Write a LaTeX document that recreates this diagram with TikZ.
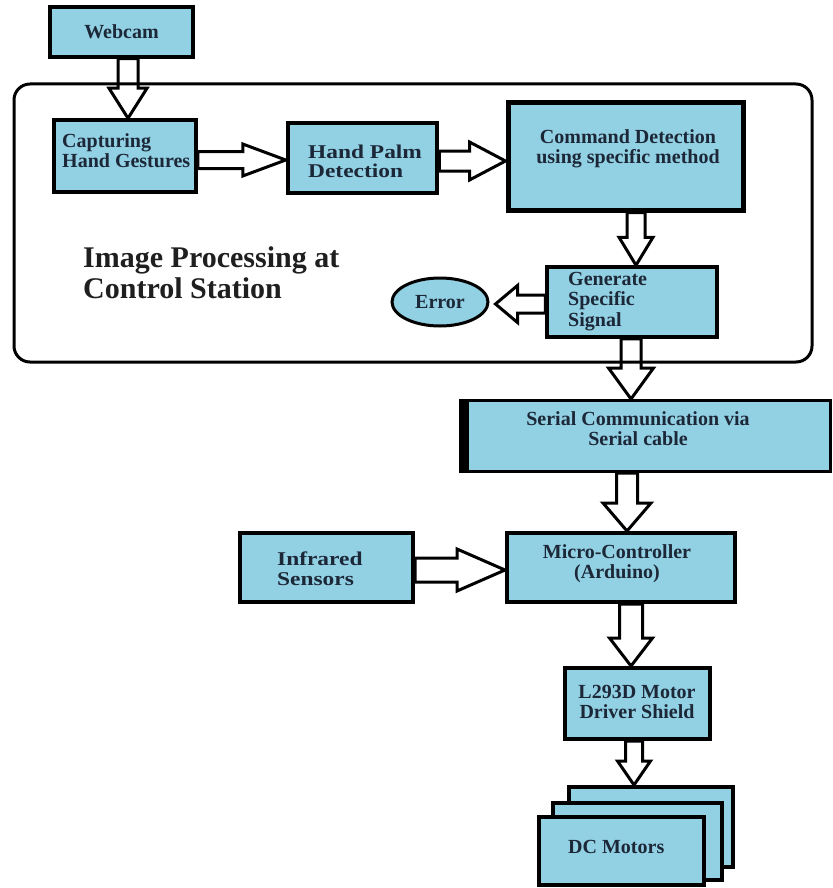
\documentclass[tikz,border=0pt]{standalone}
\usepackage{fontspec}
\setmainfont{Liberation Serif}
\newfontfamily\wideserif{Liberation Serif}[FakeStretch=1.2]
\usetikzlibrary{calc,shapes.geometric}

\definecolor{boxblue}{RGB}{146,208,227}
\definecolor{ink}{RGB}{28,40,56}

\pgfdeclarelayer{arrows}
\pgfdeclarelayer{frame}
\pgfsetlayers{arrows,frame,main}

% hollow block arrows: {from}{to}{axis position}{shaft half}{head half}{head length}
\newcommand\blkdown[6]{%
  \draw[blk] let \p1=(#3,0 |- #1), \p2=(#3,0 |- #2) in
    (\x1-#4pt,\y1) -- (\x1-#4pt,\y2+#6pt) -- (\x1-#5pt,\y2+#6pt) -- (\x1,\y2)
    -- (\x1+#5pt,\y2+#6pt) -- (\x1+#4pt,\y2+#6pt) -- (\x1+#4pt,\y1) -- cycle;}
\newcommand\blkright[6]{%
  \draw[blk] let \p1=(#1 |- 0,#3), \p2=(#2 |- 0,#3) in
    (\x1,\y1+#4pt) -- (\x2-#6pt,\y1+#4pt) -- (\x2-#6pt,\y1+#5pt) -- (\x2,\y1)
    -- (\x2-#6pt,\y1-#5pt) -- (\x2-#6pt,\y1-#4pt) -- (\x1,\y1-#4pt) -- cycle;}
\newcommand\blkleft[6]{%
  \draw[blk] let \p1=(#1 |- 0,#3), \p2=(#2 |- 0,#3) in
    (\x1,\y1+#4pt) -- (\x2+#6pt,\y1+#4pt) -- (\x2+#6pt,\y1+#5pt) -- (\x2,\y1)
    -- (\x2+#6pt,\y1-#5pt) -- (\x2+#6pt,\y1-#4pt) -- (\x1,\y1-#4pt) -- cycle;}

\tikzset{
  blk/.style={draw=black, fill=white, line width=3pt, line join=miter},
  box/.style={draw=black, fill=boxblue, line width=3.5pt, inner sep=0pt,
    text=ink, font=\bfseries\fontsize{20}{20.5}\selectfont},
  txt/.style={inner sep=0pt, text=ink, align=left,
    font=\bfseries\fontsize{20}{20.5}\selectfont},
  ctxt/.style={txt, align=center},
  widetxt/.style={inner sep=0pt, text=ink, align=left,
    font=\wideserif\bfseries\fontsize{19.5}{19.5}\selectfont},
  titletxt/.style={inner sep=0pt, text=black!88, align=left,
    font=\bfseries\fontsize{30}{31}\selectfont},
}

\newcommand\lineone{\rule{0pt}{15pt}}

\begin{document}
\begin{tikzpicture}[x=1pt,y=-1pt]
\useasboundingbox (0,0) rectangle (832,888);
\begin{pgfonlayer}{arrows}
  \fill[white] (0,0) rectangle (832,888);
\end{pgfonlayer}

% control station frame
\begin{pgfonlayer}{frame}
  \node[draw=black, line width=3pt, rounded corners=16pt, inner sep=0pt,
        minimum width=798pt, minimum height=278pt] (station) at (413,223) {};
\end{pgfonlayer}

% blocks
\node[box, minimum width=143pt, minimum height=50pt] (webcam) at (121.5,32) {Webcam};
\node[box, minimum width=142pt, minimum height=72pt] (capt) at (125,156) {};
\node[box, line width=4.5pt, minimum width=149pt, minimum height=70pt] (palm) at (362.5,158) {};
\node[box, line width=5pt, minimum width=235pt, minimum height=107pt] (cmd) at (625.5,156.5) {};
\node[box, minimum width=170pt, minimum height=70pt] (gen) at (632,302) {};
\node[box, ellipse, line width=3pt, minimum width=96pt, minimum height=48pt] (error) at (440,302) {Error};
\node[box, line width=3pt, minimum width=370pt, minimum height=71pt] (serial) at (645,436) {};
\draw[line width=10pt] ([xshift=5pt]serial.north west) -- ([xshift=5pt]serial.south west);
\node[box, line width=4pt, minimum width=228pt, minimum height=69pt] (micro) at (621,567.5) {};
\node[box, line width=4pt, minimum width=173pt, minimum height=69pt] (infra) at (326.5,567.5) {};
\node[box, line width=4pt, minimum width=145pt, minimum height=71pt] (l293) at (637.5,703.5) {};
\node[box, line width=4pt, minimum width=164pt, minimum height=80pt] (dc3) at (651,827) {};
\node[box, line width=4pt, minimum width=169pt, minimum height=77pt] (dc2) at (637.5,841.5) {};
\node[box, line width=4pt, minimum width=165pt, minimum height=68pt] (dc1) at (621.5,851) {};

% block texts
\node[txt, anchor=north west] (capt-t) at (62,132) {\lineone Capturing\\Hand Gestures};
\node[widetxt, anchor=north west] (palm-t) at (308,143) {\lineone Hand Palm\\Detection};
\node[ctxt, anchor=north] (cmd-t) at (628,128) {\lineone Command Detection\\using specific method};
\node[txt, anchor=north west] (gen-t) at (568,270) {\lineone Generate\\Specific\\Signal};
\node[ctxt, anchor=north] (serial-t) at (638,410) {\lineone Serial Communication via\\Serial cable};
\node[ctxt, anchor=north] (micro-t) at (617,543) {\lineone Micro-Controller\\(Arduino)};
\node[widetxt, font=\wideserif\bfseries\fontsize{19.5}{20}\selectfont, anchor=north west]
  (infra-t) at (277,550) {\lineone Infrared\\Sensors};
\node[ctxt, anchor=north] (l293-t) at (637,683) {\lineone L293D Motor\\Driver Shield};
\node[txt, anchor=base west] (dc-t) at (568,853) {DC Motors};
\node[titletxt, anchor=north west] (title) at (83,245) {\rule{0pt}{22pt}Image Processing at\\Control Station};

\coordinate (errtip) at ([xshift=6pt]error.east);

% flow arrows
\begin{pgfonlayer}{arrows}
  \blkdown{webcam.south}{capt.north}{128}{10}{19}{30}
  \blkright{capt.east}{palm.west}{160}{8.5}{16}{43}
  \blkright{palm.east}{cmd.west}{161}{10}{19}{36}
  \blkdown{cmd.south}{gen.north}{636}{9}{17}{28}
  \blkleft{gen.west}{errtip}{304}{9}{18.5}{22}
  \blkdown{gen.south}{serial.north}{631}{10}{22.5}{31}
  \blkdown{serial.south}{micro.north}{627}{10.5}{24}{28}
  \blkright{infra.east}{micro.west}{570}{12}{21}{48}
  \blkdown{micro.south}{l293.north}{631}{11.5}{21.5}{28}
  \blkdown{l293.south}{dc3.north}{634}{8.5}{16.5}{24}
\end{pgfonlayer}
\end{tikzpicture}
\end{document}
